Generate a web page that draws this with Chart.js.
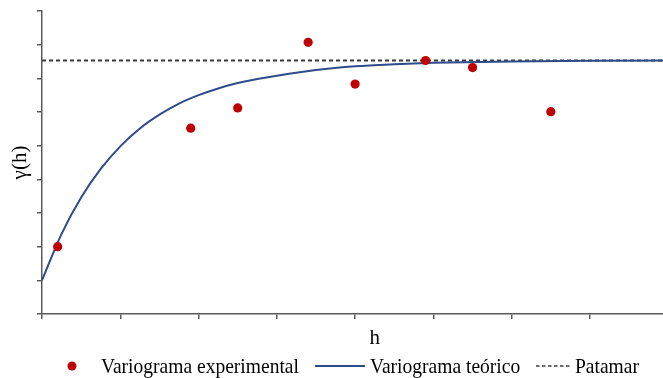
<!DOCTYPE html>
<html>
<head>
<meta charset="utf-8">
<script src="https://cdn.jsdelivr.net/npm/chart.js@4"></script>
<style>
  html, body { margin: 0; padding: 0; overflow: hidden; background: #fff; }
  #wrap { width: 712px; height: 378px; }
</style>
</head>
<body>
<div id="wrap"><canvas id="chart" width="712" height="378"></canvas></div>
<script>
// Experimental variogram: lag distance h and semivariance γ(h)
const lagH = [0.2, 1.9, 2.5, 3.4, 4.0, 4.9, 5.5, 6.5];
const gammaExp = [2.0, 5.52, 6.12, 8.07, 6.83, 7.53, 7.32, 6.01];

// Fitted (theoretical) variogram, sampled along h
const modelH = [0, 0.25, 0.5, 0.75, 1.0, 1.25, 1.5, 1.75, 2.0, 2.25, 2.5, 2.75, 3.0, 3.5, 4.0, 4.5, 5.0, 6.0, 7.0, 8.5];
const gammaModel = [1.0, 2.38, 3.46, 4.31, 4.98, 5.51, 5.92, 6.25, 6.50, 6.70, 6.86, 6.98, 7.08, 7.25, 7.36, 7.42, 7.46, 7.50, 7.52, 7.53];

// Sill (patamar)
const sillH = [0, 8.5];
const sillValue = [7.53, 7.53];

const labels = ['Variograma experimental', 'Variograma teórico', 'Patamar'];

const SERIF = '"Liberation Serif", "Times New Roman", serif';
const AXIS = '#5a5a5a';

const toXY = (xs, ys) => xs.map((x, i) => ({ x: x, y: ys[i] }));

// Legend drawn under the axis: symbol + label per series
const bottomLegend = {
  id: 'bottomLegend',
  afterDraw(chart) {
    const ctx = chart.ctx;
    const ds = chart.data.datasets;
    const cy = 366;
    const base = 373;
    const text = (str, x) => {
      ctx.save();
      ctx.translate(x, base);
      ctx.scale(0.93, 1);
      ctx.fillStyle = '#000';
      ctx.fillText(str, 0, 0);
      ctx.restore();
    };
    ctx.save();
    ctx.font = '21px ' + SERIF;
    ctx.textBaseline = 'alphabetic';

    // experimental points
    ctx.beginPath();
    ctx.fillStyle = ds[0].backgroundColor;
    ctx.arc(72, cy, 4.5, 0, Math.PI * 2);
    ctx.fill();
    text(ds[0].label, 101);

    // theoretical curve
    ctx.beginPath();
    ctx.strokeStyle = ds[1].borderColor;
    ctx.lineWidth = 2;
    ctx.moveTo(315, cy);
    ctx.lineTo(365, cy);
    ctx.stroke();
    text(ds[1].label, 370);

    // sill
    ctx.beginPath();
    ctx.strokeStyle = ds[2].borderColor;
    ctx.lineWidth = 1.5;
    ctx.setLineDash([3.5, 2.5]);
    ctx.moveTo(536, cy);
    ctx.lineTo(570, cy);
    ctx.stroke();
    ctx.setLineDash([]);
    text(ds[2].label, 575);
    ctx.restore();
  }
};

new Chart(document.getElementById('chart'), {
  type: 'scatter',
  data: {
    datasets: [
      {
        label: labels[0],
        data: toXY(lagH, gammaExp),
        backgroundColor: '#c00000',
        borderColor: '#c00000',
        pointRadius: 4.6,
        pointBorderWidth: 0,
        showLine: false,
        order: 0
      },
      {
        label: labels[1],
        data: toXY(modelH, gammaModel),
        borderColor: '#2f4b8a',
        borderWidth: 2,
        pointRadius: 0,
        showLine: true,
        cubicInterpolationMode: 'monotone',
        order: 1
      },
      {
        label: labels[2],
        data: toXY(sillH, sillValue),
        borderColor: '#3a3a3a',
        borderWidth: 1.8,
        borderDash: [4, 3],
        pointRadius: 0,
        showLine: true,
        order: 2
      }
    ]
  },
  options: {
    responsive: false,
    animation: false,
    devicePixelRatio: 1,
    layout: { padding: { top: 11, left: 0, right: 0, bottom: 0 } },
    plugins: {
      legend: { display: false },
      tooltip: { enabled: false }
    },
    scales: {
      x: {
        type: 'linear',
        min: 0,
        max: 8.5,
        ticks: { display: false, stepSize: 1 },
        grid: { drawOnChartArea: false, drawTicks: true, tickLength: 5, color: AXIS, lineWidth: 1.5 },
        border: { color: AXIS, width: 1.5 },
        title: {
          display: true,
          text: 'h',
          color: '#000',
          font: { family: SERIF, size: 21 },
          padding: { top: 0, bottom: 27 }
        },
        afterFit(scale) { scale.height = 64; }
      },
      y: {
        type: 'linear',
        min: 0,
        max: 9,
        ticks: { display: false, stepSize: 1 },
        grid: { drawOnChartArea: false, drawTicks: true, tickLength: 5, color: AXIS, lineWidth: 1.5 },
        border: { color: AXIS, width: 1.5 },
        title: {
          display: true,
          text: 'γ(h)',
          color: '#000',
          font: { family: SERIF, size: 21 },
          padding: { top: 8, bottom: 0 }
        },
        afterFit(scale) { scale.width = 42; }
      }
    }
  },
  plugins: [bottomLegend]
});
</script>
</body>
</html>
